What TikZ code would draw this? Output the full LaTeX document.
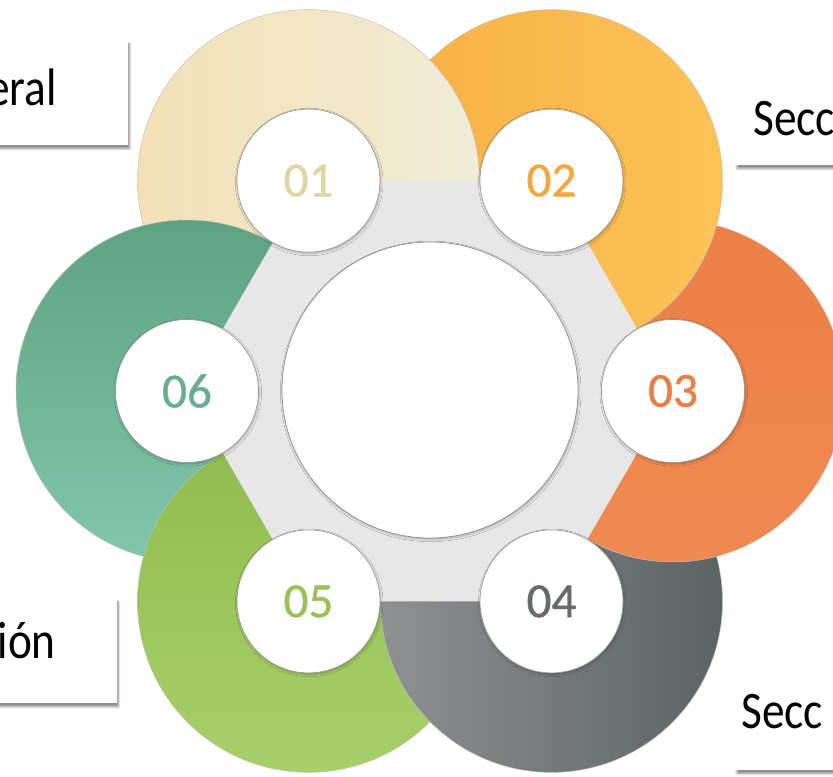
\documentclass[tikz,border=0pt]{standalone}
\usepackage{fontspec}
\setmainfont{Carlito}
\newfontfamily\boxfont[FakeStretch=0.86]{Carlito}
\newfontfamily\numfont[FakeBold=0.8]{Carlito}
\usetikzlibrary{shadows,shadows.blur}

\definecolor{pet01a}{HTML}{F3E0B6}
\definecolor{pet01b}{HTML}{F0ECD6}
\definecolor{pet02a}{HTML}{F8B043}
\definecolor{pet02b}{HTML}{FCC258}
\definecolor{pet03a}{HTML}{EC7F45}
\definecolor{pet03b}{HTML}{F08A52}
\definecolor{pet04a}{HTML}{8E9091}
\definecolor{pet04b}{HTML}{5C6365}
\definecolor{pet05a}{HTML}{8DBC4E}
\definecolor{pet05b}{HTML}{A8CF6A}
\definecolor{pet06a}{HTML}{5FA282}
\definecolor{pet06b}{HTML}{82C7AC}
\definecolor{num01}{HTML}{DDD5A4}
\definecolor{num02}{HTML}{F2A83C}
\definecolor{num03}{HTML}{E97E46}
\definecolor{num04}{HTML}{676B6D}
\definecolor{num05}{HTML}{9BC158}
\definecolor{num06}{HTML}{6AAC8F}
\definecolor{hexgray}{HTML}{E7E7E7}

\tikzset{
  petal/.style={draw=black!25, line width=0.4pt},
  numcirc/.style={circle, draw=black!40, line width=0.6pt, fill=white,
    minimum size=4.29cm, inner sep=0pt,
    blur shadow={shadow xshift=0.6pt, shadow yshift=-1.2pt, shadow blur steps=5, shadow opacity=25},
    font=\numfont\fontsize{42}{42}\selectfont},
  sectbox/.style={fill=white, minimum height=3.15cm, inner sep=0pt,
    blur shadow={shadow xshift=1.5pt, shadow yshift=-3pt, shadow blur steps=6, shadow opacity=45}},
  secttext/.style={font=\boxfont\fontsize{45}{50}\selectfont, inner sep=0pt}
}

\begin{document}
\begin{tikzpicture}[x=0.03cm, y=-0.03cm]
		%%%%% START %%%%%
		\useasboundingbox (0,0) rectangle (833,776);
		
		\coordinate (p01) at (308.5, 180.6);
		\coordinate (p02) at (551.5, 180.6);
		\coordinate (p03) at (673, 391);
		\coordinate (p04) at (551.5, 601.4);
		\coordinate (p05) at (308.5, 601.4);
		\coordinate (p06) at (187, 391);
		
		% petals, each one over the next
		\draw[petal, top color=pet06a, bottom color=pet06b] (p06) circle (171);
		\draw[petal, top color=pet05a, bottom color=pet05b] (p05) circle (171);
		\draw[petal, left color=pet04a, right color=pet04b] (p04) circle (171);
		\draw[petal, top color=pet03a, bottom color=pet03b] (p03) circle (171);
		\draw[petal, left color=pet02a, right color=pet02b] (p02) circle (171);
		\draw[petal, left color=pet01a, right color=pet01b] (p01) circle (171);
		\begin{scope}
			\clip (0,0) rectangle (833,391);
			\draw[petal, top color=pet06a, bottom color=pet06b] (p06) circle (171);
		\end{scope}
		
		\fill[hexgray] (p01) -- (p02) -- (p03) -- (p04) -- (p05) -- (p06) -- cycle;
		
		\node[circle, draw=black!45, line width=0.6pt, fill=white, minimum size=8.88cm,
			blur shadow={shadow xshift=0.6pt, shadow yshift=-1.2pt, shadow blur steps=5, shadow opacity=25}] (mid) at (430, 390) {};
		
		\node[numcirc, text=num01] (c01) at (p01) {01};
		\node[numcirc, text=num02] (c02) at (p02) {02};
		\node[numcirc, text=num03] (c03) at (p03) {03};
		\node[numcirc, text=num04] (c04) at (p04) {04};
		\node[numcirc, text=num05] (c05) at (p05) {05};
		\node[numcirc, text=num06] (c06) at (p06) {06};
		
		% section boxes at the edges
		\node[sectbox, minimum width=6.84cm, anchor=north east] (box1) at (128, 40) {};
		\node[secttext, anchor=base east] (t1) at (57, 105) {eral};
		
		\node[sectbox, minimum width=6.84cm, anchor=north west] (box2) at (735, 60) {};
		\node[secttext, anchor=base west] (t2) at (753, 135) {Secc};
		
		\node[sectbox, minimum width=6.84cm, anchor=north east] (box3) at (117, 598) {};
		\node[secttext, anchor=base east] (t3) at (56, 658) {ión};
		
		\node[sectbox, minimum width=6.84cm, anchor=north west] (box4) at (735, 665) {};
		\node[secttext, anchor=base west] (t4) at (741, 728) {Secc};
		
		%%%%% END %%%%%
\end{tikzpicture}
\end{document}
